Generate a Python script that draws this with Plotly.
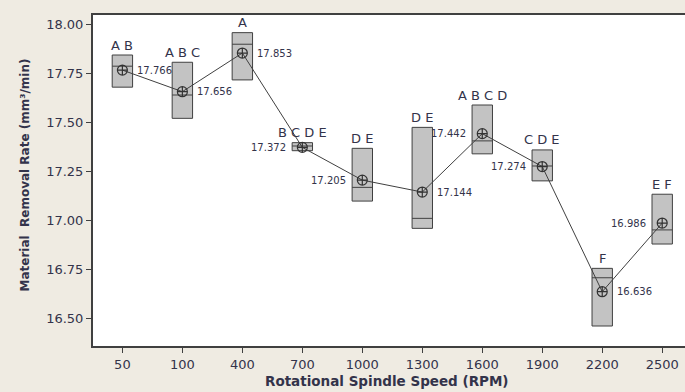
import plotly.graph_objects as go

# ---- data ----
speeds = ["50", "100", "400", "700", "1000", "1300", "1600", "1900", "2200", "2500"]
means = [17.766, 17.656, 17.853, 17.372, 17.205, 17.144, 17.442, 17.274, 16.636, 16.986]
q1 = [17.679, 17.520, 17.716, 17.355, 17.098, 16.959, 17.339, 17.201, 16.461, 16.879]
medians = [17.786, 17.639, 17.898, 17.379, 17.168, 17.010, 17.405, 17.277, 16.707, 16.951]
q3 = [17.843, 17.806, 17.957, 17.396, 17.367, 17.474, 17.588, 17.359, 16.755, 17.133]
groups = ["A B", "A B C", "A", "B C D E", "D E", "D E", "A B C D", "C D E", "F", "E F"]
label_side = ["right", "right", "right", "left", "left", "right", "left", "left", "right", "left"]
y_ticks = [16.50, 16.75, 17.00, 17.25, 17.50, 17.75, 18.00]

FONT = "DejaVu Sans"
TXT = "#33334a"
LINE = "#404040"

fig = go.Figure()

fig.add_trace(go.Box(
    x=speeds, q1=q1, median=medians, q3=q3,
    lowerfence=q1, upperfence=q3,
    width=0.34, whiskerwidth=0,
    fillcolor="#C3C3C3",
    line=dict(color=LINE, width=1),
    boxpoints=False, showlegend=False, hoverinfo="skip",
))

fig.add_trace(go.Scatter(
    x=speeds, y=means, mode="lines+markers",
    line=dict(color=LINE, width=1),
    marker=dict(symbol="circle-cross-open", size=10, color="#333333",
                line=dict(width=1.2, color="#333333")),
    showlegend=False,
))

annotations = []
for i, (m, g, top, side) in enumerate(zip(means, groups, q3, label_side)):
    # category axis: position annotations by category index
    annotations.append(dict(
        x=i, y=top, xref="x", yref="y", text=g, showarrow=False,
        xanchor="center", yanchor="middle", yshift=10,
        font=dict(family=FONT, size=13, color=TXT),
    ))
    annotations.append(dict(
        x=i, y=m, xref="x", yref="y", text=f"{m:.3f}", showarrow=False,
        xanchor="left" if side == "right" else "right", yanchor="middle",
        xshift=13 if side == "right" else -14,
        font=dict(family=FONT, size=10, color=TXT),
    ))

annotations.append(dict(
    x=0, y=0.5, xref="paper", yref="paper", xshift=-69, yshift=5,
    text="Material  Removal Rate (mm³/min)", textangle=-90, showarrow=False,
    xanchor="center", yanchor="middle",
    font=dict(family=FONT, size=12, color=TXT, weight="bold"),
))
annotations.append(dict(
    x=0.497, y=0, xref="paper", yref="paper", yshift=-35,
    text="Rotational Spindle Speed (RPM)", showarrow=False,
    xanchor="center", yanchor="middle",
    font=dict(family=FONT, size=13.5, color=TXT, weight="bold"),
))

fig.update_layout(
    width=685, height=392,
    margin=dict(l=93, r=0, t=15, b=46),
    paper_bgcolor="#EFEBE2",
    plot_bgcolor="#FFFFFF",
    annotations=annotations,
    font=dict(family=FONT, size=13, color=TXT),
    xaxis=dict(
        type="category", categoryorder="array", categoryarray=speeds,
        range=[-0.49, 9.38],
        showline=True, linecolor=LINE, linewidth=2, mirror=True,
        ticks="outside", ticklen=5, tickcolor=LINE,
        showgrid=False, zeroline=False,
        tickfont=dict(family=FONT, size=13, color=TXT),
    ),
    yaxis=dict(
        range=[16.359, 18.047],
        tickvals=y_ticks, ticktext=[f"{v:.2f}" for v in y_ticks],
        showline=True, linecolor=LINE, linewidth=2, mirror=False,
        ticks="outside", ticklen=5, tickcolor=LINE,
        showgrid=False, zeroline=False,
        tickfont=dict(family=FONT, size=13, color=TXT),
    ),
)

fig.write_html("out.html")
